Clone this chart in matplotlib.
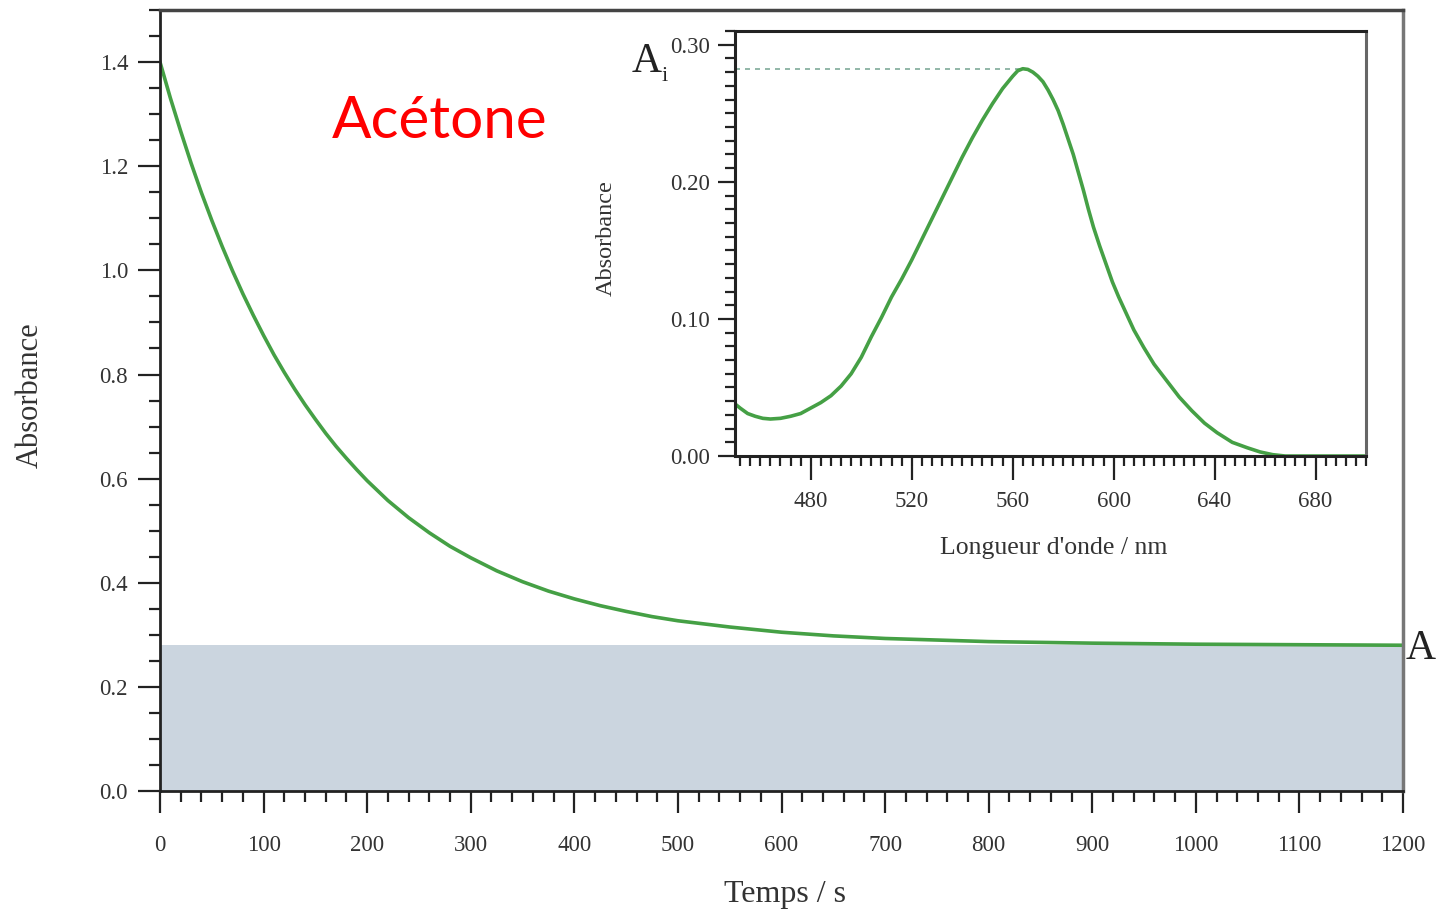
import matplotlib.pyplot as plt
from matplotlib.ticker import MultipleLocator, FormatStrFormatter

# kinetics: absorbance vs time (s)
time_s = [0, 10, 20, 30, 40, 50, 60, 70, 80, 90, 100, 110, 120, 130, 140,
          150, 160, 170, 180, 190, 200, 220, 240, 260, 280, 300, 325, 350,
          375, 400, 425, 450, 475, 500, 550, 600, 650, 700, 800, 900, 1000,
          1100, 1200]
absorb_t = [1.400, 1.331, 1.267, 1.206, 1.149, 1.096, 1.046, 0.999, 0.955,
            0.914, 0.875, 0.838, 0.804, 0.772, 0.742, 0.714, 0.687, 0.662,
            0.639, 0.617, 0.596, 0.558, 0.525, 0.496, 0.470, 0.448, 0.423,
            0.402, 0.384, 0.369, 0.356, 0.345, 0.335, 0.327, 0.315, 0.305,
            0.298, 0.293, 0.287, 0.284, 0.282, 0.281, 0.280]
a_inf = 0.28

# spectrum: absorbance vs wavelength (nm)
wavelength = [450, 452, 455, 458, 461, 464, 468, 472, 476, 480, 484, 488, 492,
              496, 500, 504, 508, 512, 516, 520, 524, 528, 532, 536, 540, 544,
              548, 552, 556, 560, 562, 564, 566, 568, 570, 572, 574, 576, 578,
              580, 582, 584, 586, 588, 590, 592, 594.5, 597, 599.5, 602, 605,
              608, 612, 616, 621, 626, 631, 636, 641, 647, 653, 658, 663, 668,
              680, 700]
absorb_wl = [0.038, 0.035, 0.031, 0.029, 0.0275, 0.027, 0.0275, 0.029, 0.031,
             0.035, 0.039, 0.044, 0.051, 0.060, 0.072, 0.087, 0.101, 0.116,
             0.129, 0.143, 0.158, 0.173, 0.188, 0.203, 0.218, 0.232, 0.245,
             0.257, 0.268, 0.277, 0.281, 0.2825, 0.282, 0.280, 0.277, 0.273,
             0.267, 0.260, 0.252, 0.242, 0.231, 0.220, 0.207, 0.194, 0.180,
             0.167, 0.153, 0.140, 0.127, 0.116, 0.104, 0.092, 0.079, 0.067,
             0.055, 0.043, 0.033, 0.024, 0.017, 0.010, 0.006, 0.003, 0.001,
             0.0, 0.0, 0.0]

GREEN = '#45a045'
SERIF = 'Liberation Serif'


def style_ticks(ax, maj_len, min_len, xlen=None):
    ax.tick_params(which='both', direction='out', top=False, right=False,
                   width=1.6, colors='#222222', labelcolor='#333333')
    ax.tick_params(which='major', length=maj_len)
    ax.tick_params(which='minor', length=min_len)
    if xlen:
        ax.tick_params(axis='x', which='major', length=xlen[0])
        ax.tick_params(axis='x', which='minor', length=xlen[1])
    for lab in ax.get_xticklabels() + ax.get_yticklabels():
        lab.set_family(SERIF)


def main():
    fig = plt.figure(figsize=(14.39, 9.15), dpi=100)

    # main plot
    ax = fig.add_axes([0.1112, 0.1355, 0.8638, 0.8535])
    ax.fill_between([time_s[0], time_s[-1]], 0, a_inf, color='#cbd5df', lw=0)
    ax.plot(time_s, absorb_t, color=GREEN, lw=2.6, solid_joinstyle='round')
    ax.set_xlim(0, 1200)
    ax.set_ylim(0, 1.5)
    ax.xaxis.set_major_locator(MultipleLocator(100))
    ax.xaxis.set_minor_locator(MultipleLocator(20))
    ax.yaxis.set_major_locator(MultipleLocator(0.2))
    ax.yaxis.set_minor_locator(MultipleLocator(0.05))
    ax.yaxis.set_major_formatter(FormatStrFormatter('%.1f'))
    ax.tick_params(axis='both', labelsize=16.5)
    ax.tick_params(axis='x', pad=16)
    ax.tick_params(axis='y', pad=7)
    style_ticks(ax, 16, 8)
    ax.spines['left'].set_linewidth(2)
    ax.spines['bottom'].set_linewidth(2)
    ax.spines['left'].set_color('#222222')
    ax.spines['bottom'].set_color('#222222')
    ax.spines['top'].set_linewidth(2.5)
    ax.spines['top'].set_color('#444444')
    ax.spines['right'].set_linewidth(2.5)
    ax.spines['right'].set_color('#777777')

    ax.set_xlabel('Temps / s', fontsize=23, family=SERIF, color='#333333')
    ax.xaxis.set_label_coords(0.503, -0.114)
    ax.set_ylabel('Absorbance', fontsize=22, family=SERIF, color='#333333')
    ax.yaxis.set_label_coords(-0.093, 0.507)

    ax.text(0.225, 0.857, 'Acétone', transform=ax.transAxes, fontsize=42,
            family='Lato', color='#ff0000', ha='center', va='center')
    ax.annotate('A', xy=(time_s[-1], a_inf), xytext=(3, -14),
                textcoords='offset pixels', fontsize=30, family=SERIF,
                color='#222222', ha='left', va='baseline',
                annotation_clip=False)

    # inset spectrum
    ax_in = fig.add_axes([0.5108, 0.5016, 0.4385, 0.4645])
    peak = max(absorb_wl)
    peak_wl = wavelength[absorb_wl.index(peak)]
    ax_in.hlines(peak, wavelength[0], peak_wl, colors='#7faa9a',
                 linestyles=(0, (3, 3)), lw=1.2)
    ax_in.plot(wavelength, absorb_wl, color=GREEN, lw=2.6,
               solid_joinstyle='round')
    ax_in.set_xlim(450, 700)
    ax_in.set_ylim(0, 0.31)
    ax_in.xaxis.set_major_locator(MultipleLocator(40))
    ax_in.xaxis.set_minor_locator(MultipleLocator(4))
    ax_in.yaxis.set_major_locator(MultipleLocator(0.1))
    ax_in.yaxis.set_minor_locator(MultipleLocator(0.01))
    ax_in.yaxis.set_major_formatter(FormatStrFormatter('%.2f'))
    ax_in.tick_params(axis='both', labelsize=16.5)
    ax_in.tick_params(axis='x', pad=8)
    ax_in.tick_params(axis='y', pad=6)
    style_ticks(ax_in, 12, 7, xlen=(17, 7))
    for side in ['left', 'bottom', 'top']:
        ax_in.spines[side].set_linewidth(2.2)
        ax_in.spines[side].set_color('#222222')
    ax_in.spines['right'].set_linewidth(2.2)
    ax_in.spines['right'].set_color('#666666')

    ax_in.set_xlabel("Longueur d'onde / nm", fontsize=18.5, family=SERIF,
                     color='#333333')
    ax_in.xaxis.set_label_coords(0.5055, -0.19)
    ax_in.set_ylabel('Absorbance', fontsize=17.5, family=SERIF,
                     color='#333333')
    ax_in.yaxis.set_label_coords(-0.187, 0.513)

    ax_in.annotate('A', xy=(wavelength[0], peak), xytext=(-88, -3),
                   textcoords='offset pixels', fontsize=30, family=SERIF,
                   color='#222222', ha='center', va='baseline',
                   annotation_clip=False)
    ax_in.annotate('i', xy=(wavelength[0], peak), xytext=(-70, -12),
                   textcoords='offset pixels', fontsize=16, family=SERIF,
                   color='#222222', ha='center', va='baseline',
                   annotation_clip=False)

    fig.savefig('out.png', dpi=100)


if __name__ == '__main__':
    main()
